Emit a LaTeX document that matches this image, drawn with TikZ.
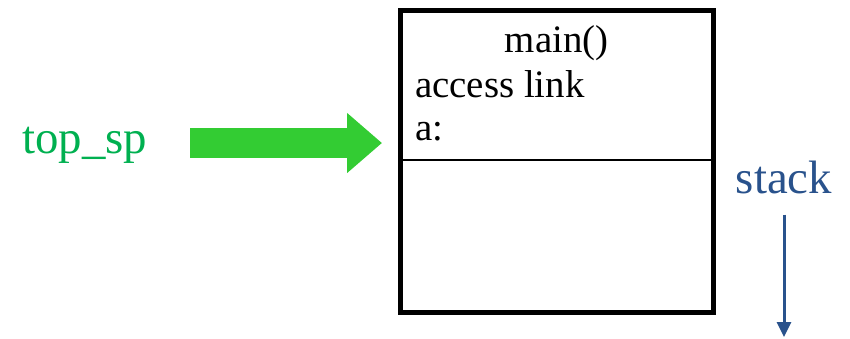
\documentclass[tikz,border=0pt]{standalone}
\usepackage{fontspec}
\setmainfont{Liberation Serif}
\usetikzlibrary{arrows.meta}
\definecolor{spgreen}{RGB}{0,176,80}
\definecolor{arrowgreen}{RGB}{51,204,51}
\definecolor{stackblue}{RGB}{41,82,140}
\tikzset{
  bigtext/.style={font=\fontsize{47}{56}\selectfont,inner sep=0pt},
  recordtext/.style={font=\fontsize{39}{44}\selectfont,inner sep=0pt},
}
\begin{document}
\begin{tikzpicture}[x=1bp,y=-1bp]
  \useasboundingbox (0,0) rectangle (850,338);
  \node[draw,line width=5bp,minimum width=312.5bp,minimum height=302bp,inner sep=0pt] (frame) at (556.75,161.5) {};
  \coordinate (divider) at (0,160);
  \draw[line width=2bp] (frame.west |- divider) -- (frame.east |- divider);
  \node[recordtext,anchor=base] (fname) at (556.75,52) {main()};
  \node[recordtext,anchor=base west] (alink) at (415,97) {access link};
  \node[recordtext,anchor=base west] (avar) at (415,140) {a:};
  \node[bigtext,text=spgreen,anchor=base west] (topsp) at (22,153) {top\_sp};
  \coordinate (gstart) at (190,143);
  \draw[arrowgreen,line width=30bp,-{Triangle[length=35bp,width=58bp]},shorten >=16bp] (gstart) -- (frame.west |- gstart);
  \node[bigtext,text=stackblue,anchor=base] (stack) at (784,193) {stack};
  \coordinate (stackend) at (784,337);
  \draw[stackblue,line width=3bp,-{Triangle[length=15bp,width=14bp]},shorten <=21bp] (stack.south) -- (stackend);
\end{tikzpicture}
\end{document}
